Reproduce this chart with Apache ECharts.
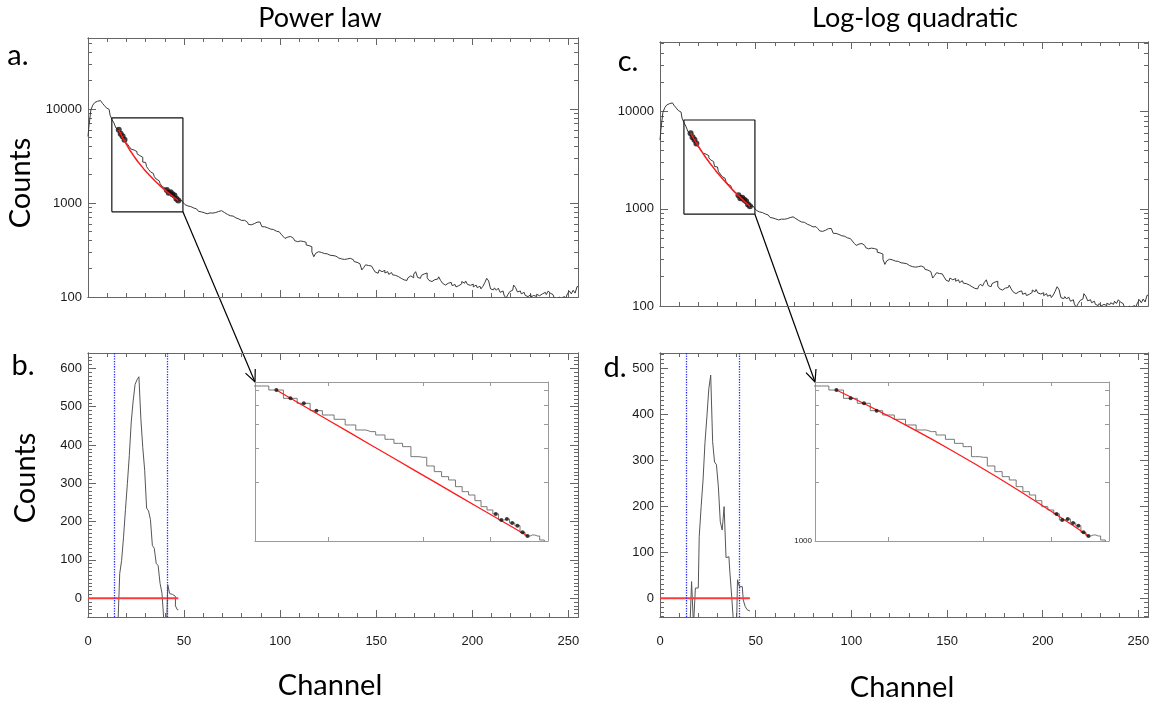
<!DOCTYPE html>
<html>
<head>
<meta charset="utf-8">
<script src="https://cdn.jsdelivr.net/npm/echarts@6/dist/echarts.min.js"></script>
<style>
	html, body { margin: 0; padding: 0; background: #fff; }
	#chart { width: 1156px; height: 703px; }
</style>
</head>
<body>
<div id="chart"></div>
<script>
// counts per channel, index = channel number (0..255)
var spectrum = [
	5100, 6600, 9800, 11000, 11700, 12100, 12300, 12000, 11500, 10900,
	10300, 9900, 8600, 7700, 7100, 6295, 6001, 5437, 5125, 4697,
	4461, 4239, 3963, 3734, 3661, 3519, 3343, 3187, 3064, 2721,
	2700, 2436, 2278, 2146, 2063, 1906, 1796, 1726, 1614, 1503,
	1445, 1378, 1283, 1299, 1238, 1199, 1108, 1061, 1074, 1061,
	1012, 960, 930, 915, 890, 885, 865, 858, 815, 805,
	788, 780, 768, 784, 770, 781, 792, 805, 812, 828,
	815, 792, 758, 748, 732, 726, 700, 694, 676, 670,
	652, 655, 640, 624, 592, 586, 602, 612, 625, 628,
	634, 560, 558, 545, 540, 528, 522, 505, 502, 494,
	480, 466, 442, 420, 434, 440, 436, 420, 398, 388,
	394, 396, 390, 382, 358, 352, 342, 302, 268, 292,
	303, 298, 300, 290, 288, 294, 278, 276, 270, 272,
	260, 270, 254, 251, 246, 254, 258, 256, 250, 238,
	234, 226, 228, 194, 206, 220, 216, 214, 208, 198,
	184, 179, 194, 186, 192, 180, 186, 174, 182, 172,
	170, 165, 170, 158, 152, 157, 150, 160, 168, 160,
	175, 186, 162, 158, 170, 176, 180, 160, 150, 146,
	153, 148, 155, 164, 150, 140, 134, 140, 136, 143,
	132, 136, 128, 132, 138, 146, 140, 148, 136, 133,
	137, 128, 134, 126, 130, 122, 130, 142, 158, 148,
	122, 119, 125, 118, 124, 112, 116, 105, 97, 106,
	114, 118, 134, 126, 113, 116, 108, 112, 104, 101,
	106, 100, 104, 101, 107, 103, 108, 104, 112, 106,
	116, 110, 106, 99, 96, 100, 92, 98, 101, 96,
	108, 116, 108, 118, 110, 129
];

// fit points (black dots) and the two fitted curves
var dotChannels = [16, 17, 18, 19, 41, 42, 43, 44, 45, 46, 47];
var fitChannels = [16, 18, 20, 22, 24, 26, 29, 32, 35, 38, 41, 44, 47];
var fitPowerLaw = [6001, 4966, 4192, 3596, 3127, 2749, 2306, 1969, 1704, 1493, 1321, 1180, 1061];
var fitLogQuad = [6001, 5115, 4406, 3830, 3358, 2963, 2486, 2111, 1810, 1566, 1366, 1201, 1061];

// background-subtracted counts (panels b and d)
var residChannels = [14, 15, 16, 17, 18, 19, 20, 21, 22, 23, 24, 25, 26, 27, 28, 29, 30,
	31, 32, 33, 34, 35, 36, 37, 38, 39, 40, 41, 42, 43, 44, 45, 46, 47];
var residPowerLaw = [-80, -80, -80, 64, 99, 160, 232, 300, 373, 460, 515, 558, 570, 578, 470, 394, 334,
	235, 228, 205, 138, 130, 91, 85, 39, 13, -60, -55, 35, 12, 10, 5, -20, -30];
var residLogQuad = [-80, -80, -80, 36, -60, 22, 22, 134, 199, 257, 338, 394, 455, 485, 340, 296, 290,
	242, 166, 148, 199, 88, 90, 57, 2, -60, -60, 40, 25, 25, -4, -18, -25, -28];
var zeroLine = [0, 47];
var windowEdges = [13.6, 41.5];

// zoom boxes drawn on the log panels
var boxChannelsA = [12.4, 49.4], boxCountsA = [805, 8030];
var boxChannelsC = [12.5, 49.6], boxCountsC = [880, 8210];

// axis ranges and ticks
var channelRange = [0, 255];
var countsRangeA = [100, 56900], countsRangeC = [100, 52100];
var countsRangeB = [-49, 640], countsRangeD = [-41, 533];
var insetChannelRange = [14.6, 51.3], insetCountsRange = [1000, 6600];
var channelLabels = [0, 50, 100, 150, 200, 250];
var logLabels = [100, 1000, 10000];
var linLabelsB = [0, 100, 200, 300, 400, 500, 600];
var linLabelsD = [0, 100, 200, 300, 400, 500];
var insetChannelTicks = [20, 30, 40];
var insetCountTicks = [2000, 3000, 4000, 5000, 6000];

function steps(from, to, step, skip) {
	var out = [], v;
	for (v = from; v <= to; v += step) {
		if (!skip || v % skip !== 0) out.push(v);
	}
	return out;
}
function logMinor(fromExp, toVal) {
	var out = [], e, m;
	for (e = fromExp; Math.pow(10, e) < toVal; e++) {
		for (m = 2; m <= 9; m++) {
			if (m * Math.pow(10, e) <= toVal) out.push(m * Math.pow(10, e));
		}
	}
	return out;
}

var FRAME = '#666',
	INSET_FRAME = '#9a9a9a',
	LABEL_FONT = '"Liberation Sans", Arial, sans-serif',
	TEXT_FONT = 'Lato, "Open Sans", sans-serif';

var xAxes = [], yAxes = [];

function addAxis(list, o) {
	var frame = o.frame || FRAME;
	list.push({
		gridIndex: o.grid,
		type: o.type || 'value',
		min: o.range[0],
		max: o.range[1],
		position: o.pos,
		axisLine: { show: true, onZero: false, lineStyle: { color: frame, width: 1 } },
		axisTick: { show: true, inside: true, length: o.len, customValues: o.ticks, lineStyle: { color: frame, width: 1 } },
		axisLabel: o.labels ? {
			show: true,
			customValues: o.labels,
			margin: o.margin || 6,
			color: '#1a1a1a',
			fontSize: o.fontSize || 13,
			fontFamily: LABEL_FONT,
			formatter: function (v) { return String(Math.round(v)); }
		} : { show: false },
		splitLine: { show: false },
		minorTick: { show: false },
		axisPointer: { show: false }
	});
	return list.length - 1;
}

function mainPanel(grid, yType, yRange, yMajor, yMinor, yLabels, xLabels) {
	var xMajor = channelLabels, xMinor = steps(10, 250, 10, 50), ax = {};
	ax.x = addAxis(xAxes, { grid: grid, range: channelRange, pos: 'bottom', ticks: xMajor, len: 7, labels: xLabels, margin: 18 });
	addAxis(xAxes, { grid: grid, range: channelRange, pos: 'bottom', ticks: xMinor, len: 4 });
	addAxis(xAxes, { grid: grid, range: channelRange, pos: 'top', ticks: xMajor, len: 7 });
	addAxis(xAxes, { grid: grid, range: channelRange, pos: 'top', ticks: xMinor, len: 4 });
	ax.y = addAxis(yAxes, { grid: grid, type: yType, range: yRange, pos: 'left', ticks: yMajor, len: 8, labels: yLabels, margin: 6 });
	addAxis(yAxes, { grid: grid, type: yType, range: yRange, pos: 'left', ticks: yMinor, len: 4 });
	addAxis(yAxes, { grid: grid, type: yType, range: yRange, pos: 'right', ticks: yMajor, len: 8 });
	addAxis(yAxes, { grid: grid, type: yType, range: yRange, pos: 'right', ticks: yMinor, len: 4 });
	return ax;
}

function insetPanel(grid, yLabels) {
	var ax = {};
	ax.x = addAxis(xAxes, { grid: grid, type: 'log', range: insetChannelRange, pos: 'bottom', ticks: insetChannelTicks, len: 4, frame: INSET_FRAME });
	addAxis(xAxes, { grid: grid, type: 'log', range: insetChannelRange, pos: 'top', ticks: insetChannelTicks, len: 4, frame: INSET_FRAME });
	ax.y = addAxis(yAxes, { grid: grid, type: 'log', range: insetCountsRange, pos: 'left', ticks: insetCountTicks, len: 4,
		frame: INSET_FRAME, labels: yLabels, fontSize: 8, margin: 3 });
	addAxis(yAxes, { grid: grid, type: 'log', range: insetCountsRange, pos: 'right', ticks: insetCountTicks, len: 4, frame: INSET_FRAME });
	return ax;
}

var grids = [
	{ left: 88, top: 38, width: 490, height: 259 },
	{ left: 88, top: 353, width: 490, height: 264 },
	{ left: 255, top: 382, width: 293, height: 159 },
	{ left: 660, top: 42, width: 488, height: 264 },
	{ left: 660, top: 353, width: 488, height: 264 },
	{ left: 815, top: 382, width: 294, height: 159 }
];
grids.forEach(function (g) { g.containLabel = false; g.outerBoundsMode = 'none'; });

var axA = mainPanel(0, 'log', countsRangeA, logLabels, logMinor(2, countsRangeA[1]), logLabels, null);
var axB = mainPanel(1, 'value', countsRangeB, linLabelsB, steps(-40, 630, 10, 100), linLabelsB, channelLabels);
var axBi = insetPanel(2, null);
var axC = mainPanel(3, 'log', countsRangeC, logLabels, logMinor(2, countsRangeC[1]), logLabels, null);
var axD = mainPanel(4, 'value', countsRangeD, linLabelsD, steps(-40, 530, 10, 100), linLabelsD, channelLabels);
var axDi = insetPanel(5, [1000]);

var spectrumData = spectrum.map(function (v, i) { return [i, v]; });
var insetData = spectrumData.slice(13, 54);
var dotData = dotChannels.map(function (c) { return [c, spectrum[c]]; });

function pairs(xs, ys) {
	return xs.map(function (x, i) { return [x, ys[i]]; });
}
function boxPath(xs, ys) {
	return [[xs[0], ys[0]], [xs[1], ys[0]], [xs[1], ys[1]], [xs[0], ys[1]], [xs[0], ys[0]]];
}

function lineSeries(ax, data, color, width, extra) {
	var s = {
		type: 'line',
		xAxisIndex: ax.x,
		yAxisIndex: ax.y,
		data: data,
		symbol: 'none',
		silent: true,
		clip: true,
		lineStyle: { color: color, width: width },
		z: 2
	};
	return Object.assign(s, extra || {});
}
function dotSeries(ax, size, z) {
	return {
		type: 'scatter',
		xAxisIndex: ax.x,
		yAxisIndex: ax.y,
		data: dotData,
		symbol: 'circle',
		symbolSize: size,
		silent: true,
		itemStyle: { color: '#111' },
		z: z
	};
}
function windowLines() {
	return {
		symbol: 'none',
		silent: true,
		label: { show: false },
		lineStyle: { color: '#2a2aff', type: 'dotted', width: 1.3 },
		data: windowEdges.map(function (x) { return { xAxis: x }; })
	};
}

var series = [
	// a. power law on the log spectrum
	lineSeries(axA, spectrumData, '#3a3a3a', 1, { step: 'middle' }),
	dotSeries(axA, 6, 3),
	lineSeries(axA, pairs(fitChannels, fitPowerLaw), '#ff1a1a', 1.5, { z: 4 }),
	lineSeries(axA, boxPath(boxChannelsA, boxCountsA), '#111', 1.2, { z: 5 }),
	// b. counts above the power law
	lineSeries(axB, pairs(residChannels, residPowerLaw), '#555', 1, { step: 'middle', markLine: windowLines() }),
	lineSeries(axB, pairs(zeroLine, [0, 0]), '#ff3a3a', 2, { z: 4 }),
	// b inset, log-log
	lineSeries(axBi, insetData, '#777', 1, { step: 'middle' }),
	lineSeries(axBi, pairs(fitChannels, fitPowerLaw), '#ff1a1a', 1.3, { z: 4 }),
	dotSeries(axBi, 4, 5),
	// c. log-log quadratic on the log spectrum
	lineSeries(axC, spectrumData, '#3a3a3a', 1, { step: 'middle' }),
	dotSeries(axC, 6, 3),
	lineSeries(axC, pairs(fitChannels, fitLogQuad), '#ff1a1a', 1.5, { z: 4 }),
	lineSeries(axC, boxPath(boxChannelsC, boxCountsC), '#111', 1.2, { z: 5 }),
	// d. counts above the quadratic
	lineSeries(axD, pairs(residChannels, residLogQuad), '#555', 1, { step: 'middle', markLine: windowLines() }),
	lineSeries(axD, pairs(zeroLine, [0, 0]), '#ff3a3a', 2, { z: 4 }),
	// d inset
	lineSeries(axDi, insetData, '#777', 1, { step: 'middle' }),
	lineSeries(axDi, pairs(fitChannels, fitLogQuad), '#ff1a1a', 1.3, { z: 4 }),
	dotSeries(axDi, 4, 5)
];

function label(text, x, y, size, rotate) {
	return {
		type: 'text',
		x: x,
		y: y,
		rotation: rotate ? Math.PI / 2 : 0,
		silent: true,
		style: {
			text: text,
			fill: '#000',
			font: size + 'px ' + TEXT_FONT,
			align: 'center',
			verticalAlign: 'middle'
		}
	};
}

var texts = [
	label('Power law', 320, 18, 27),
	label('Log-log quadratic', 915, 18, 27),
	label('a.', 18, 56, 29),
	label('b.', 23, 366, 29),
	label('c.', 628, 62, 29),
	label('d.', 615, 368, 29),
	label('Counts', 21, 183, 29, true),
	label('Counts', 26, 478, 29, true),
	label('Channel', 330, 686, 29),
	label('Channel', 902, 688, 29)
];

var chart = echarts.init(document.getElementById('chart'), null, { renderer: 'canvas' });

chart.setOption({
	animation: false,
	backgroundColor: '#fff',
	textStyle: { fontFamily: LABEL_FONT },
	grid: grids,
	xAxis: xAxes,
	yAxis: yAxes,
	series: series,
	graphic: { elements: texts }
});

// arrows from each zoom box corner to the top-left corner of its inset
function arrow(p0, p1) {
	var ang = Math.atan2(p1[1] - p0[1], p1[0] - p0[0]),
		len = 13,
		spread = 0.42,
		w1 = [p1[0] - len * Math.cos(ang - spread), p1[1] - len * Math.sin(ang - spread)],
		w2 = [p1[0] - len * Math.cos(ang + spread), p1[1] - len * Math.sin(ang + spread)];
	return [
		{ type: 'line', silent: true, shape: { x1: p0[0], y1: p0[1], x2: p1[0], y2: p1[1] }, style: { stroke: '#000', lineWidth: 1.2 } },
		{ type: 'polyline', silent: true, shape: { points: [w1, p1, w2] }, style: { stroke: '#000', lineWidth: 1.2, fill: null } }
	];
}

var fromA = chart.convertToPixel({ xAxisIndex: axA.x, yAxisIndex: axA.y }, [boxChannelsA[1], boxCountsA[0]]),
	toB = chart.convertToPixel({ xAxisIndex: axBi.x, yAxisIndex: axBi.y }, [insetChannelRange[0], insetCountsRange[1]]),
	fromC = chart.convertToPixel({ xAxisIndex: axC.x, yAxisIndex: axC.y }, [boxChannelsC[1], boxCountsC[0]]),
	toD = chart.convertToPixel({ xAxisIndex: axDi.x, yAxisIndex: axDi.y }, [insetChannelRange[0], insetCountsRange[1]]);

chart.setOption({
	graphic: { elements: texts.concat(arrow(fromA, toB), arrow(fromC, toD)) }
});
</script>
</body>
</html>
